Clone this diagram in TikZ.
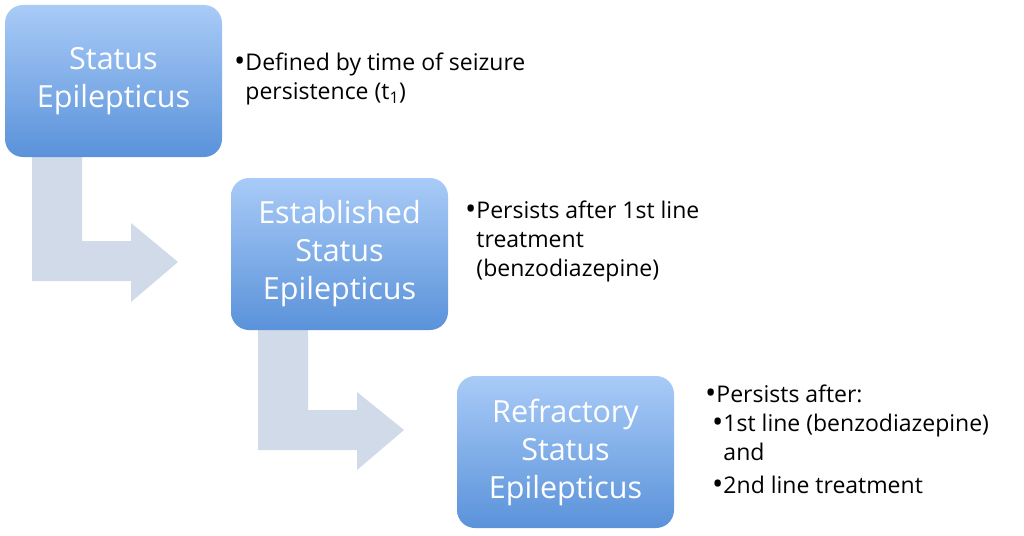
\documentclass[tikz,border=0pt]{standalone}
\usepackage{fontspec}
\setmainfont{Open Sans}
\begin{document}
\begin{tikzpicture}[x=1pt,y=-1pt,
 box/.style={rounded corners=18pt,minimum width=217pt,minimum height=152pt,inner sep=0pt,text=white,align=center,
   font=\fontsize{30.5}{38}\selectfont},
 note/.style={anchor=north west,align=left,font=\fontsize{23}{29}\selectfont,inner sep=0pt}]
\useasboundingbox (0,0) rectangle (1024,535);
\definecolor{btop}{HTML}{A9CBF7}\definecolor{bbot}{HTML}{5A92DA}\definecolor{arr}{HTML}{D0DAE8}
\tikzset{box/.append style={top color=btop,bottom color=bbot}}
\newcommand{\bl}{{\fontsize{30}{29}\selectfont\raisebox{-1pt}{•}}}
\fill[arr] (32,157) -- (82,157) -- (82,241) -- (131,241) -- (131,223) -- (178,262) -- (131,302) -- (131,281) -- (32,281) -- cycle;
\fill[arr] (258,330) -- (308,330) -- (308,410) -- (357,410) -- (357,392) -- (404,430) -- (357,470) -- (357,450) -- (258,450) -- cycle;
\node[box] (a) at (113.5,81) {Status\\Epilepticus};
\node[box] (b) at (339.5,254) {Established\\Status\\Epilepticus};
\node[box] (c) at (565.5,452) {Refractory\\Status\\Epilepticus};
\node[note] (ta) at (234,53) {\bl Defined by time of seizure\\\phantom{\bl}persistence (t\textsubscript{1})};
\node[note] (tb) at (465,201) {\bl Persists after 1st line\\\phantom{\bl}treatment\\\phantom{\bl}(benzodiazepine)};
\node[note] (tc) at (705,385) {\bl Persists after:\\\hspace{7pt}\bl 1st line (benzodiazepine)\\\hspace{7pt}\phantom{\bl}and\\[4pt]\hspace{7pt}\bl 2nd line treatment};
\end{tikzpicture}
\end{document}
